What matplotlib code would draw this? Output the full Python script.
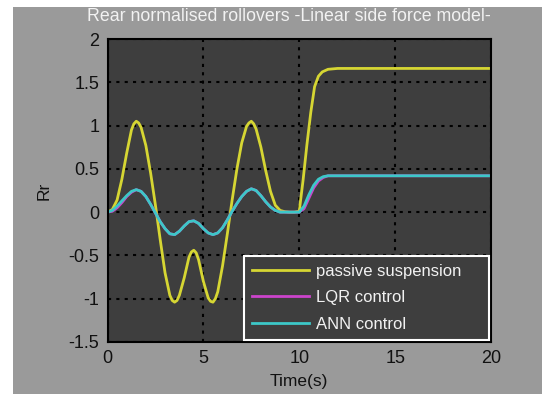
import matplotlib.pyplot as plt
from matplotlib.patches import Rectangle

# values
time_passive = [0, 0.25, 0.5, 0.75, 1.0, 1.25, 1.375, 1.5, 1.625, 1.75, 2.0, 2.25, 2.5,
                2.75, 3.0, 3.25, 3.375, 3.5, 3.625, 3.75, 4.0, 4.25, 4.375, 4.5, 4.625,
                4.75, 5.0, 5.25, 5.375, 5.5, 5.625, 5.75, 6.0, 6.25, 6.5, 6.75, 7.0,
                7.25, 7.375, 7.5, 7.625, 7.75, 8.0, 8.25, 8.5, 8.75, 9.0, 9.25, 9.5,
                9.75, 10.0, 10.2, 10.4, 10.6, 10.8, 11.0, 11.2, 11.5, 12.0, 20.0]
passive = [0, 0.03, 0.14, 0.38, 0.68, 0.95, 1.02, 1.05, 1.03, 0.98, 0.77, 0.45, 0.08,
           -0.32, -0.7, -0.96, -1.02, -1.04, -1.02, -0.96, -0.76, -0.52, -0.46, -0.44,
           -0.47, -0.55, -0.8, -0.99, -1.03, -1.04, -1.0, -0.92, -0.62, -0.25, 0.14,
           0.5, 0.8, 0.99, 1.03, 1.05, 1.02, 0.96, 0.75, 0.48, 0.24, 0.08, 0.02, 0.005,
           0, 0, 0.01, 0.37, 0.78, 1.15, 1.45, 1.57, 1.62, 1.65, 1.66, 1.66]

time_ctrl = [0, 0.25, 0.5, 0.75, 1.0, 1.25, 1.5, 1.75, 2.0, 2.25, 2.5, 2.75, 3.0,
             3.25, 3.5, 3.75, 4.0, 4.25, 4.5, 4.75, 5.0, 5.25, 5.5, 5.75, 6.0,
             6.25, 6.5, 6.75, 7.0, 7.25, 7.5, 7.75, 8.0, 8.25, 8.5, 8.75, 9.0,
             9.5, 10.0, 10.25, 10.5, 10.75, 11.0, 11.25, 11.5, 12.0, 20.0]
lqr = [0, 0.01, 0.05, 0.11, 0.18, 0.23, 0.26, 0.24, 0.18, 0.09, -0.01, -0.11, -0.19,
       -0.25, -0.26, -0.22, -0.16, -0.11, -0.1, -0.13, -0.19, -0.24, -0.26, -0.24,
       -0.18, -0.09, 0.01, 0.1, 0.18, 0.24, 0.27, 0.25, 0.19, 0.12, 0.06, 0.02, 0.0,
       0, 0, 0.04, 0.16, 0.28, 0.36, 0.4, 0.42, 0.42, 0.42]
ann = [0, 0.02, 0.07, 0.13, 0.19, 0.24, 0.26, 0.24, 0.18, 0.09, -0.01, -0.11, -0.19,
       -0.25, -0.26, -0.22, -0.16, -0.11, -0.1, -0.13, -0.19, -0.24, -0.26, -0.24,
       -0.18, -0.09, 0.01, 0.1, 0.18, 0.24, 0.27, 0.25, 0.19, 0.12, 0.06, 0.02, 0.0,
       0, 0, 0.07, 0.2, 0.31, 0.38, 0.41, 0.42, 0.42, 0.42]

labels = ['passive suspension', 'LQR control', 'ANN control']
colors = ['#d6d633', '#cc44cc', '#3cc8c8']


def main():
    plt.rcParams['font.family'] = ['Liberation Sans', 'DejaVu Sans']
    fig = plt.figure(figsize=(5.42, 3.94), dpi=100, facecolor='white')
    # grey panel behind the axes (white strip top and left like the screenshot)
    fig.patches.append(Rectangle((13 / 542, 0), 1, 1 - 7 / 394, transform=fig.transFigure,
                                 facecolor='#9a9a9a', edgecolor='none', zorder=-10))
    ax = fig.add_axes([107.5 / 542, 52 / 394, 383.5 / 542, 303 / 394])
    ax.set_facecolor('#3e3e3e')

    ax.plot(time_passive, passive, color=colors[0], lw=2, label=labels[0],
            solid_joinstyle='round')
    ax.plot(time_ctrl, lqr, color=colors[1], lw=2, label=labels[1], solid_joinstyle='round')
    ax.plot(time_ctrl, ann, color=colors[2], lw=2, label=labels[2], solid_joinstyle='round')

    ax.set_xlim(0, 20)
    ax.set_ylim(-1.5, 2)
    ax.set_xticks([0, 5, 10, 15, 20])
    ax.set_yticks([-1.5, -1, -0.5, 0, 0.5, 1, 1.5, 2])
    ax.set_yticklabels(['-1.5', '-1', '-0.5', '0', '0.5', '1', '1.5', '2'])
    ax.tick_params(length=0, labelsize=13, colors='#111111', pad=6)
    ax.grid(True, color='black', linestyle=(0, (1.5, 2.5)), linewidth=1.5)
    for s in ax.spines.values():
        s.set_color('black')
        s.set_linewidth(1.5)

    ax.set_title('Rear normalised rollovers -Linear side force model-', color='#f2f2f2',
                 fontsize=12.8, pad=13, x=0.472)
    ax.set_xlabel('Time(s)', fontsize=12.5, color='#111111', labelpad=5)
    ax.set_ylabel('Rr', fontsize=12.5, color='#111111', labelpad=12)

    leg = ax.legend(loc='lower left', bbox_to_anchor=(0.356, 0.007, 0.639, 0.283),
                    mode='expand', borderaxespad=0, fontsize=12, labelspacing=0.68,
                    handlelength=3.4, handletextpad=0.4, borderpad=0.5, fancybox=False,
                    framealpha=1, facecolor='#3e3e3e', edgecolor='white')
    leg.get_frame().set_linewidth(1.5)
    for t in leg.get_texts():
        t.set_color('#f2f2f2')

    fig.savefig('out.png', dpi=100, facecolor=fig.get_facecolor())


if __name__ == '__main__':
    main()
